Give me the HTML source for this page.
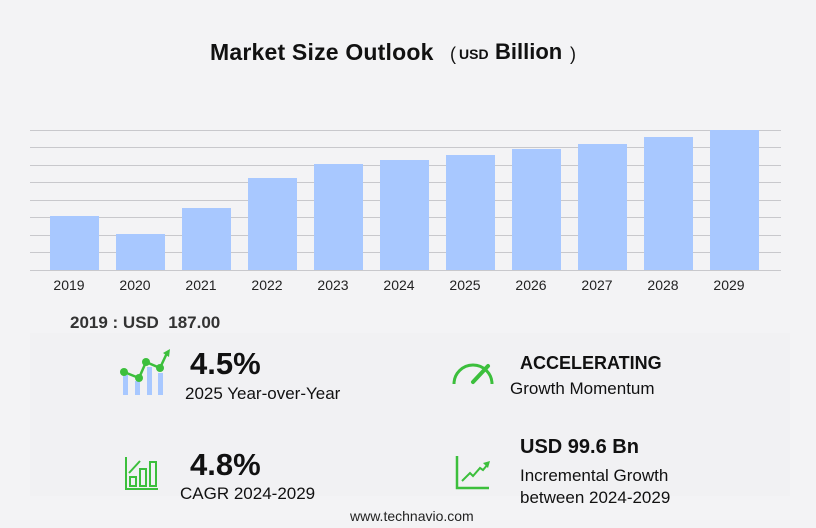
<!DOCTYPE html>
<html><head><meta charset="utf-8"><style>
body{margin:0;background:#f3f3f5;font-family:"Liberation Sans",sans-serif;}
#c{position:relative;width:816px;height:528px;overflow:hidden;background:#f3f3f5;}
.t{position:absolute;white-space:nowrap;color:#111;}
.g{position:absolute;left:30px;width:751px;height:1px;background:#c8c8cc;}
.b{position:absolute;width:49px;background:#a8c8ff;}
.y{position:absolute;top:277px;font-size:14px;width:60px;text-align:center;color:#222;}
</style></head><body><div id="c">
<div class="t" style="left:210px;top:39px;font-size:23px;font-weight:bold;letter-spacing:0.2px;">Market Size Outlook</div>
<div class="t" style="left:450px;top:44px;font-size:18px;">(</div>
<div class="t" style="left:459px;top:46px;font-size:14px;font-weight:bold;">USD</div>
<div class="t" style="left:495px;top:39px;font-size:22px;font-weight:bold;">Billion</div>
<div class="t" style="left:570px;top:44px;font-size:18px;">)</div>

<div class="g" style="top:130px"></div><div class="g" style="top:147px"></div><div class="g" style="top:165px"></div><div class="g" style="top:182px"></div><div class="g" style="top:200px"></div><div class="g" style="top:217px"></div><div class="g" style="top:235px"></div><div class="g" style="top:252px"></div><div class="g" style="top:270px"></div>

<div class="b" style="left:50px;top:216px;height:54px"></div>
<div class="b" style="left:116px;top:234px;height:36px"></div>
<div class="b" style="left:182px;top:208px;height:62px"></div>
<div class="b" style="left:248px;top:178px;height:92px"></div>
<div class="b" style="left:314px;top:164px;height:106px"></div>
<div class="b" style="left:380px;top:160px;height:110px"></div>
<div class="b" style="left:446px;top:155px;height:115px"></div>
<div class="b" style="left:512px;top:149px;height:121px"></div>
<div class="b" style="left:578px;top:144px;height:126px"></div>
<div class="b" style="left:644px;top:137px;height:133px"></div>
<div class="b" style="left:710px;top:130px;height:140px"></div>

<div class="y" style="left:39px">2019</div><div class="y" style="left:105px">2020</div><div class="y" style="left:171px">2021</div><div class="y" style="left:237px">2022</div><div class="y" style="left:303px">2023</div><div class="y" style="left:369px">2024</div><div class="y" style="left:435px">2025</div><div class="y" style="left:501px">2026</div><div class="y" style="left:567px">2027</div><div class="y" style="left:633px">2028</div><div class="y" style="left:699px">2029</div>

<div style="position:absolute;left:30px;top:333px;width:760px;height:163px;background:#f1f1f3;"></div>
<div class="t" style="left:70px;top:313px;font-size:17px;font-weight:bold;color:#333;">2019 : USD &nbsp;187.00</div>

<svg style="position:absolute;left:118px;top:348px" width="55" height="50">
<rect x="5" y="27" width="5" height="20" fill="#a8c8ff"/><rect x="17" y="33" width="5" height="14" fill="#a8c8ff"/><rect x="29" y="19" width="5" height="28" fill="#a8c8ff"/><rect x="40" y="25" width="5" height="22" fill="#a8c8ff"/>
<polyline points="6,24 21,30 28,14 42,20 49,5" fill="none" stroke="#3cbf3c" stroke-width="2.5"/>
<circle cx="6" cy="24" r="4" fill="#3cbf3c"/><circle cx="21" cy="30" r="4" fill="#3cbf3c"/><circle cx="28" cy="14" r="4" fill="#3cbf3c"/><circle cx="42" cy="20" r="4" fill="#3cbf3c"/>
<polygon points="45,5 52,1 51,9" fill="#3cbf3c"/></svg>
<div class="t" style="left:190px;top:346px;font-size:31px;font-weight:bold;">4.5%</div>
<div class="t" style="left:185px;top:384px;font-size:17px;">2025 Year-over-Year</div>

<svg style="position:absolute;left:450px;top:358px" width="46" height="30">
<path d="M4,26 A19,19 0 0 1 42,26" fill="none" stroke="#3cbf3c" stroke-width="3"/>
<line x1="23" y1="24" x2="38" y2="8" stroke="#3cbf3c" stroke-width="4" stroke-linecap="round"/></svg>
<div class="t" style="left:520px;top:353px;font-size:18px;font-weight:bold;">ACCELERATING</div>
<div class="t" style="left:510px;top:379px;font-size:17px;">Growth Momentum</div>

<svg style="position:absolute;left:124px;top:455px" width="36" height="36">
<path d="M2,2 V34 H34" fill="none" stroke="#3cbf3c" stroke-width="2"/>
<rect x="6" y="22" width="6" height="9" fill="none" stroke="#3cbf3c" stroke-width="2"/><rect x="16" y="14" width="6" height="17" fill="none" stroke="#3cbf3c" stroke-width="2"/><rect x="26" y="7" width="6" height="24" fill="none" stroke="#3cbf3c" stroke-width="2"/>
<path d="M5,18 L16,6" stroke="#3cbf3c" stroke-width="2"/></svg>
<div class="t" style="left:190px;top:447px;font-size:31px;font-weight:bold;">4.8%</div>
<div class="t" style="left:180px;top:484px;font-size:17px;">CAGR 2024-2029</div>

<svg style="position:absolute;left:455px;top:455px" width="36" height="36">
<path d="M2,1 V33 H34" fill="none" stroke="#3cbf3c" stroke-width="2.5"/>
<polyline points="7,26 15,18 18,21 25,13 28,15 33,9" fill="none" stroke="#3cbf3c" stroke-width="2"/>
<polygon points="28,8 35,6 33,13" fill="#3cbf3c"/></svg>
<div class="t" style="left:520px;top:436px;font-size:20px;font-weight:bold;">USD 99.6 Bn</div>
<div class="t" style="left:520px;top:466px;font-size:17px;">Incremental Growth</div>
<div class="t" style="left:520px;top:488px;font-size:17px;">between 2024-2029</div>

<div class="t" style="left:350px;top:508px;font-size:14px;color:#222;">www.technavio.com</div>
</div></body></html>
